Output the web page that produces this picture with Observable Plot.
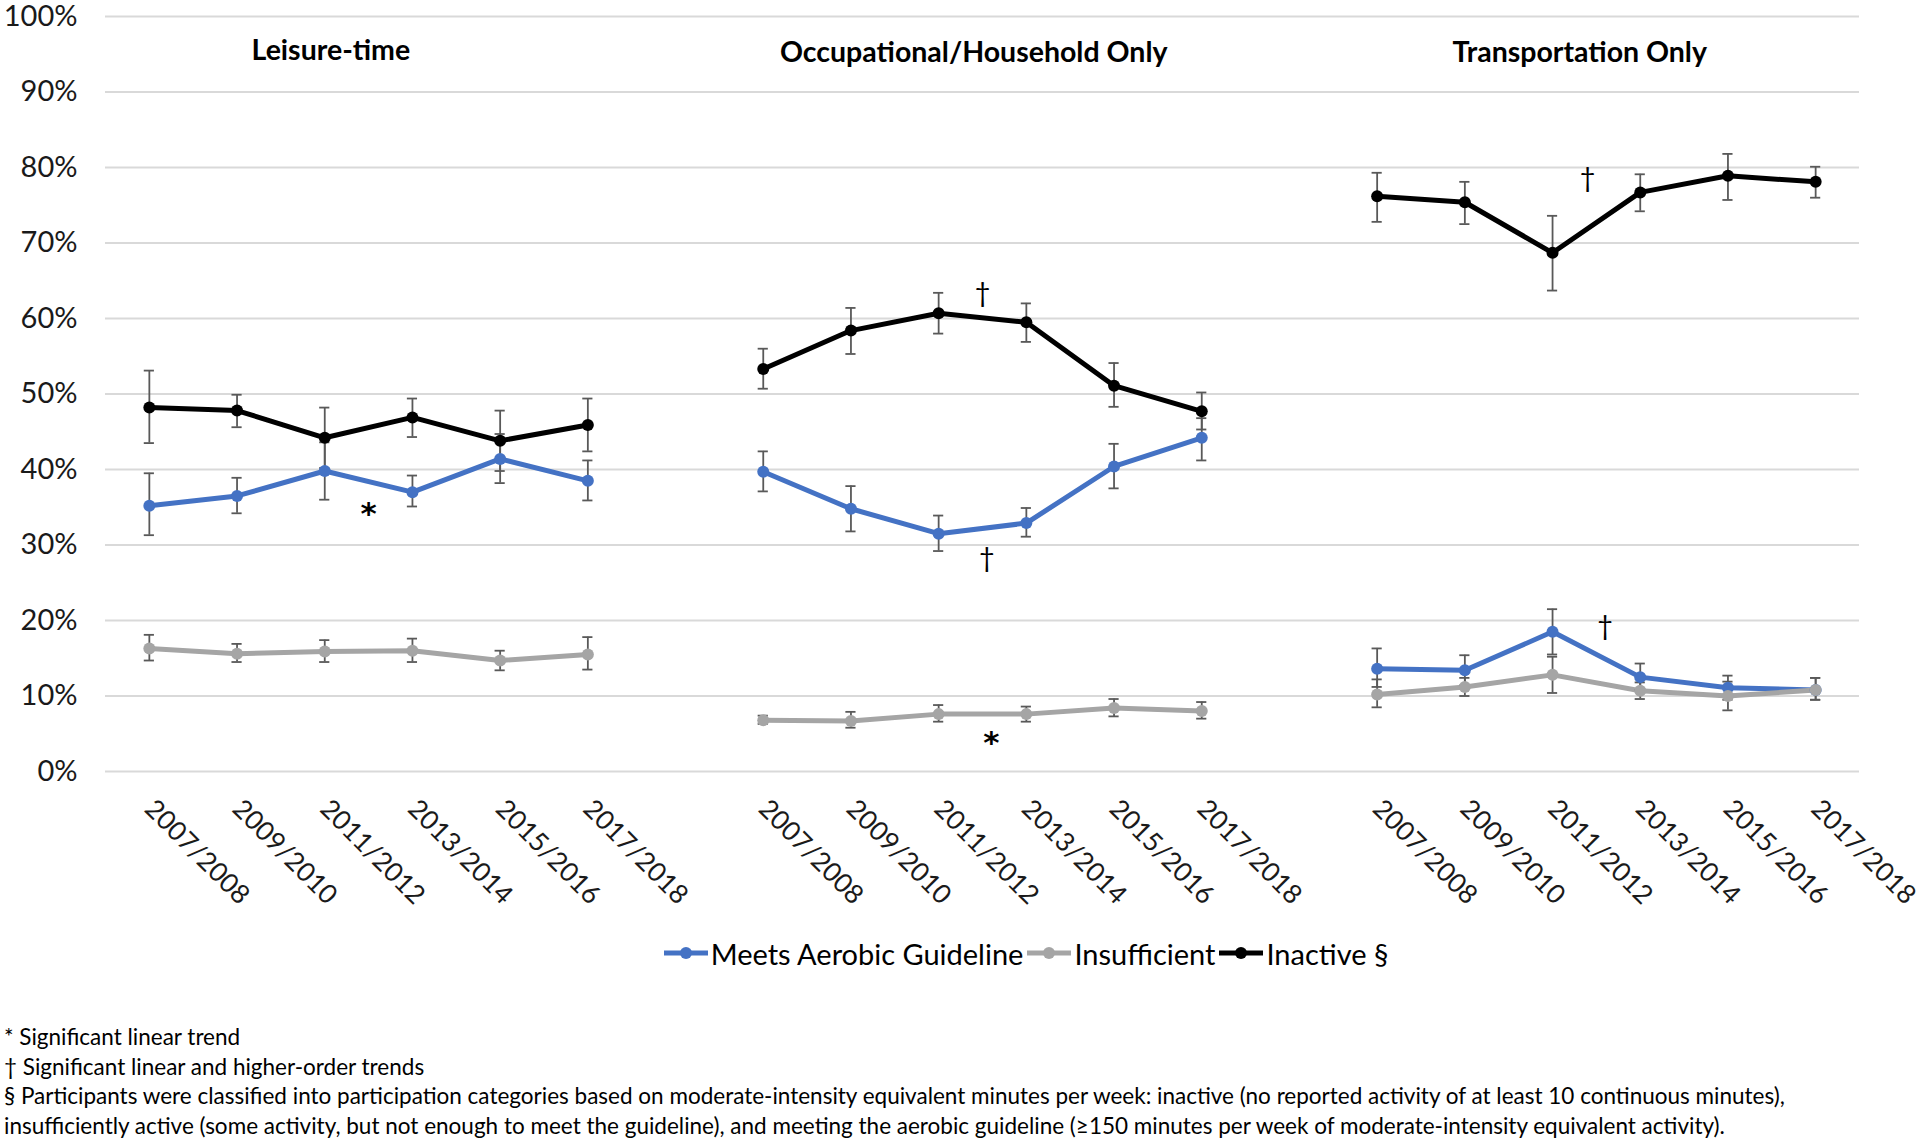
<!DOCTYPE html>
<html><head><meta charset="utf-8">
<script src="https://cdn.jsdelivr.net/npm/d3@7"></script>
<script src="https://cdn.jsdelivr.net/npm/@observablehq/plot@0.6"></script>
<style>
html,body{margin:0;padding:0;background:#fff;}
body{font-family:Lato,"Open Sans",sans-serif;color:#000;width:1920px;height:1142px;position:relative;overflow:hidden;}
#chart{position:absolute;left:0;top:0;}
#legend{position:absolute;top:933px;left:528px;width:1000px;height:40px;display:flex;justify-content:center;align-items:center;font-size:29px;white-space:nowrap;}
#legend .item{display:flex;align-items:center;margin-right:4px;}
#legend svg{margin-right:3px;}
#notes{position:absolute;top:1022px;left:4px;font-size:22.5px;line-height:29.5px;white-space:nowrap;}
</style></head><body>
<div id="chart"></div>
<div id="legend"></div>
<div id="notes"></div>
<script>
// ---- data ----
const periods = ["2007/2008","2009/2010","2011/2012","2013/2014","2015/2016","2017/2018"];
const panels = ["Leisure-time","Occupational/Household Only","Transportation Only"];
const seriesNames = ["Meets Aerobic Guideline","Insufficient","Inactive §"];
const seriesColors = ["#4472C4","#A5A5A5","#000000"];

// Leisure-time
const leisureMeets            = [35.2, 36.5, 39.8, 37.0, 41.4, 38.5];
const leisureMeetsLow         = [31.3, 34.2, 36.0, 35.1, 38.2, 35.9];
const leisureMeetsHigh        = [39.5, 38.9, 43.6, 39.2, 44.7, 41.2];
const leisureInsufficient     = [16.3, 15.6, 15.9, 16.0, 14.7, 15.5];
const leisureInsufficientLow  = [14.7, 14.5, 14.5, 14.5, 13.4, 13.5];
const leisureInsufficientHigh = [18.1, 16.9, 17.4, 17.6, 16.0, 17.8];
const leisureInactive         = [48.2, 47.8, 44.2, 46.9, 43.8, 45.9];
const leisureInactiveLow      = [43.5, 45.6, 40.2, 44.3, 39.8, 42.4];
const leisureInactiveHigh     = [53.1, 49.9, 48.2, 49.4, 47.8, 49.4];

// Occupational/Household only
const occMeets            = [39.7, 34.8, 31.5, 32.9, 40.4, 44.2];
const occMeetsLow         = [37.1, 31.8, 29.2, 31.1, 37.5, 41.2];
const occMeetsHigh        = [42.4, 37.8, 33.9, 34.9, 43.4, 46.8];
const occInsufficient     = [6.8, 6.7, 7.6, 7.6, 8.4, 8.0];
const occInsufficientLow  = [6.3, 5.8, 6.6, 6.6, 7.3, 7.0];
const occInsufficientHigh = [7.4, 7.9, 8.8, 8.6, 9.6, 9.2];
const occInactive         = [53.3, 58.4, 60.7, 59.5, 51.1, 47.7];
const occInactiveLow      = [50.7, 55.3, 58.0, 56.9, 48.3, 45.3];
const occInactiveHigh     = [56.0, 61.4, 63.4, 62.0, 54.1, 50.2];

// Transportation only
const transMeets            = [13.6, 13.4, 18.5, 12.5, 11.1, 10.8];
const transMeetsLow         = [11.2, 11.4, 15.5, 10.8, 9.5, 9.5];
const transMeetsHigh        = [16.3, 15.4, 21.5, 14.3, 12.7, 12.4];
const transInsufficient     = [10.2, 11.2, 12.8, 10.7, 10.0, 10.8];
const transInsufficientLow  = [8.5, 10.0, 10.4, 9.6, 8.1, 9.5];
const transInsufficientHigh = [12.2, 12.4, 15.2, 11.8, 11.9, 12.4];
const transInactive         = [76.2, 75.4, 68.7, 76.7, 78.9, 78.1];
const transInactiveLow      = [72.8, 72.5, 63.7, 74.2, 75.7, 76.0];
const transInactiveHigh     = [79.3, 78.1, 73.6, 79.1, 81.8, 80.1];

const yTicks = [0,10,20,30,40,50,60,70,80,90,100];

// trend markers: panel, position between periods, level (%), symbol
const trendMarks = [
  {panel:0, at:2.5, level:34.5, symbol:"*"},
  {panel:1, at:2.5, level:63.3, symbol:"†"},
  {panel:1, at:2.55, level:28.2, symbol:"†"},
  {panel:1, at:2.6, level:4.1, symbol:"*"},
  {panel:2, at:2.4, level:78.6, symbol:"†"},
  {panel:2, at:2.6, level:19.2, symbol:"†"}
];
// title layout (panel-relative centre, level %)
const titleLayout = [{at:2.07, level:95.4},{at:2.40, level:95.2},{at:2.31, level:95.2}];

const footnotes = [
  "* Significant linear trend",
  "† Significant linear and higher-order trends",
  "§ Participants were classified into participation categories based on moderate-intensity equivalent minutes per week: inactive (no reported activity of at least 10 continuous minutes),",
  "insufficiently active (some activity, but not enough to meet the guideline), and meeting the aerobic guideline (≥150 minutes per week of moderate-intensity equivalent activity)."
];

// ---- build table ----
const table = [
  [[leisureMeets,leisureMeetsLow,leisureMeetsHigh],[leisureInsufficient,leisureInsufficientLow,leisureInsufficientHigh],[leisureInactive,leisureInactiveLow,leisureInactiveHigh]],
  [[occMeets,occMeetsLow,occMeetsHigh],[occInsufficient,occInsufficientLow,occInsufficientHigh],[occInactive,occInactiveLow,occInactiveHigh]],
  [[transMeets,transMeetsLow,transMeetsHigh],[transInsufficient,transInsufficientLow,transInsufficientHigh],[transInactive,transInactiveLow,transInactiveHigh]]
];
const slot = periods.length + 1;
const rows = [];
table.forEach((panelSeries, p) => panelSeries.forEach(([v, lo, hi], s) => v.forEach((val, i) => rows.push({
  panel: panels[p], series: seriesNames[s], x: p*slot + i, value: val, low: lo[i], high: hi[i], key: p + "|" + s
}))));
const tickIdx = [];
panels.forEach((_, p) => periods.forEach((_, i) => tickIdx.push(p*slot + i)));
const cap = 0.058;
const stars = trendMarks.filter(d => d.symbol === "*");
const daggers = trendMarks.filter(d => d.symbol !== "*");

const chart = Plot.plot({
  width: 1920, height: 920,
  marginTop: 16, marginBottom: 149, marginLeft: 105, marginRight: 61,
  style: {fontFamily: "Lato, 'Open Sans', sans-serif", color: "#000", background: "#fff", overflow: "visible"},
  x: {domain: [-0.5, panels.length*slot - 1.5], axis: null},
  y: {domain: [0, 100], axis: null},
  color: {domain: seriesNames, range: seriesColors},
  marks: [
    Plot.gridY(yTicks, {stroke: "#d9d9d9", strokeOpacity: 1, strokeWidth: 2}),
    Plot.axisY({ticks: yTicks, tickFormat: d => d + "%", tickSize: 0, tickPadding: 28, fontSize: 29, fill: "#1a1a1a", label: null}),
    Plot.axisX({ticks: tickIdx, tickFormat: d => periods[d % slot], tickSize: 0, tickPadding: 33, tickRotate: 45, fontSize: 26.5, fill: "#1a1a1a", label: null}),
    Plot.line(rows, {x: "x", y: "value", z: "key", stroke: "series", strokeWidth: 5, strokeLinejoin: "round"}),
    Plot.ruleX(rows, {x: "x", y1: "low", y2: "high", stroke: "#595959", strokeWidth: 1.8}),
    Plot.ruleY(rows, {y: "low", x1: d => d.x - cap, x2: d => d.x + cap, stroke: "#595959", strokeWidth: 1.8}),
    Plot.ruleY(rows, {y: "high", x1: d => d.x - cap, x2: d => d.x + cap, stroke: "#595959", strokeWidth: 1.8}),
    Plot.dot(rows, {x: "x", y: "value", fill: "series", r: 6, stroke: null}),
    Plot.text(daggers, {x: d => d.panel*slot + d.at, y: "level", text: "symbol", fontSize: 27, fill: "#000"}),
    Plot.text(stars, {x: d => d.panel*slot + d.at, y: "level", text: "symbol", fontSize: 31, dy: 3, fontWeight: "bold", fontFamily: "'DejaVu Sans', sans-serif", fill: "#000"}),
    Plot.text(panels, {x: (d, i) => i*slot + titleLayout[i].at, y: (d, i) => titleLayout[i].level, text: d => d, fontSize: 28.5, fontWeight: "bold", fill: "#000"})
  ]
});
document.getElementById("chart").appendChild(chart);

// legend
const legend = document.getElementById("legend");
seriesNames.forEach((name, i) => {
  const item = document.createElement("div");
  item.className = "item";
  item.innerHTML = `<svg width="44" height="20"><line x1="0" y1="10" x2="44" y2="10" stroke="${seriesColors[i]}" stroke-width="5"/><circle cx="22" cy="10" r="6" fill="${seriesColors[i]}"/></svg><span>${name}</span>`;
  legend.appendChild(item);
});
// notes
const notes = document.getElementById("notes");
footnotes.forEach(t => { const d = document.createElement("div"); d.textContent = t; notes.appendChild(d); });
</script>
</body></html>
